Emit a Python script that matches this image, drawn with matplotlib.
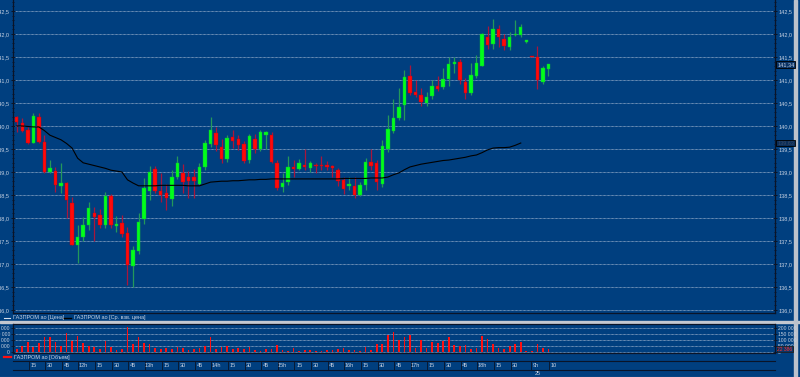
import matplotlib
matplotlib.use('Agg')
import matplotlib.pyplot as plt
from matplotlib.ticker import FuncFormatter, MultipleLocator
from matplotlib.transforms import blended_transform_factory
import numpy as np

# 5-minute candles: 24th 11:00 .. 18:40, then 25th morning
opens = [140.20, 140.07, 139.91, 139.63, 140.20, 139.65, 139.00, 139.02, 138.70, 138.76,
         138.33, 137.41, 137.59, 137.85, 138.11, 138.07, 137.85, 138.48, 137.83, 137.89,
         137.67, 136.96, 137.28, 137.98, 138.59, 139.07, 138.59, 138.54, 138.41, 138.89,
         138.98, 138.89, 138.89, 138.75, 139.10, 139.60, 139.85, 139.54, 139.28, 139.76,
         139.72, 139.61, 139.26, 139.72, 139.50, 139.80, 139.80, 139.20, 138.67, 138.78,
         139.10, 139.06, 139.15, 139.09, 139.15, 139.15, 139.15, 139.11, 139.04, 138.83,
         138.70, 138.70, 138.50, 138.72, 139.22, 139.20, 138.74, 139.50, 139.89, 140.17,
         140.46, 141.09, 140.74, 140.67, 140.50, 140.65, 140.87, 140.85, 141.02, 141.35,
         141.39, 140.96, 140.72, 141.09, 141.30, 141.93, 141.78, 142.10, 141.89, 141.72,
         141.98, 141.98, 141.83, 141.52, 141.50, 140.96, 141.24]
closes = [140.09, 139.89, 139.63, 140.22, 139.65, 139.00, 139.08, 138.72, 138.76, 138.40,
          137.41, 137.59, 137.85, 138.22, 138.02, 137.85, 138.48, 137.85, 137.85, 137.65,
          136.98, 137.30, 137.91, 138.65, 139.00, 138.59, 138.50, 138.43, 138.89, 139.20,
          138.78, 138.80, 138.80, 139.10, 139.63, 139.91, 139.59, 139.28, 139.74, 139.67,
          139.59, 139.24, 139.78, 139.50, 139.87, 139.87, 139.22, 138.65, 138.76, 139.11,
          139.06, 139.20, 139.10, 139.20, 139.13, 139.13, 139.10, 139.09, 138.80, 138.63,
          138.74, 138.50, 138.72, 139.22, 139.13, 138.78, 139.57, 139.93, 140.17, 140.41,
          141.07, 140.72, 140.67, 140.52, 140.63, 140.87, 140.80, 141.02, 141.35, 141.39,
          141.00, 140.72, 141.11, 141.37, 142.00, 141.76, 142.10, 141.93, 141.74, 141.93,
          142.00, 142.15, 141.83, 141.50, 141.00, 141.26, 141.34]
highs = [140.22, 140.17, 139.98, 140.28, 140.28, 139.80, 139.26, 139.11, 139.20, 138.78,
         138.45, 137.85, 138.02, 138.35, 138.24, 138.20, 138.57, 138.52, 138.05, 138.07,
         137.80, 137.40, 138.10, 138.87, 139.13, 139.13, 138.98, 138.74, 139.04, 139.35,
         139.17, 139.02, 139.07, 139.20, 139.70, 140.20, 139.98, 139.72, 139.80, 139.91,
         139.80, 139.67, 139.83, 139.83, 139.91, 139.89, 139.87, 139.26, 138.98, 139.35,
         139.26, 139.28, 139.50, 139.24, 139.20, 139.35, 139.24, 139.15, 139.09, 138.89,
         138.89, 138.89, 138.78, 139.30, 139.50, 139.26, 139.70, 140.24, 140.59, 140.83,
         141.22, 141.33, 141.00, 140.83, 140.74, 141.00, 141.09, 141.26, 141.50, 141.50,
         141.46, 141.04, 141.37, 141.54, 142.02, 142.17, 142.33, 142.20, 142.00, 142.04,
         142.30, 142.22, 141.85, 141.52, 141.74, 141.30, 141.35]
lows = [139.87, 139.87, 139.60, 139.62, 139.63, 138.98, 138.98, 138.57, 138.54, 138.00,
        137.41, 137.02, 137.50, 137.75, 137.50, 137.78, 137.78, 137.78, 137.70, 137.58,
        136.54, 136.50, 137.22, 137.87, 138.40, 138.54, 138.35, 138.17, 138.26, 138.85,
        138.54, 138.43, 138.43, 138.72, 139.05, 139.55, 139.46, 139.20, 139.22, 139.52,
        139.48, 139.20, 139.20, 139.41, 139.46, 139.50, 139.20, 138.61, 138.57, 138.72,
        138.89, 139.04, 139.04, 139.00, 138.98, 139.04, 139.04, 138.89, 138.70, 138.52,
        138.61, 138.43, 138.48, 138.61, 139.04, 138.61, 138.67, 139.43, 139.85, 140.13,
        140.13, 140.67, 140.63, 140.43, 140.43, 140.59, 140.76, 140.80, 140.87, 141.15,
        140.91, 140.59, 140.67, 141.04, 141.30, 141.67, 141.67, 141.72, 141.65, 141.65,
        141.96, 141.93, 141.81, 141.50, 140.80, 140.91, 141.09]
volumes = [22900, 51400, 80000, 42900, 71400, 120000, 120000, 85700, 51400, 157000,
           94300, 134000, 71400, 51400, 42900, 20000, 91400, 37100, 14300, 20000,
           206000, 65700, 123000, 71400, 65700, 34300, 20000, 28600, 20000, 42900,
           34300, 14300, 20000, 34300, 51400, 123000, 22900, 42900, 51400, 20000,
           34300, 22900, 42900, 14300, 8600, 20000, 20000, 57100, 14300, 5700,
           28600, 8600, 14300, 14300, 5700, 8600, 14300, 14300, 22900, 28600,
           14300, 14300, 5700, 37100, 14300, 62900, 65700, 143000, 163000, 100000,
           123000, 143000, 28600, 100000, 28600, 85700, 71400, 91400, 123000, 57100,
           51400, 57100, 20000, 34300, 129000, 109000, 62900, 28600, 22900, 51400,
           65700, 85700, 5700, 3000, 65700, 28600, 22386]
# weighted average price, 24th only
vwap = [140.00, 140.00, 139.99, 139.98, 139.98, 139.90, 139.80, 139.75, 139.70, 139.62,
        139.52, 139.30, 139.20, 139.17, 139.14, 139.11, 139.08, 139.04, 139.02, 139.00,
        138.83, 138.76, 138.70, 138.70, 138.70, 138.70, 138.71, 138.71, 138.71, 138.71,
        138.71, 138.70, 138.70, 138.70, 138.74, 138.78, 138.79, 138.80, 138.80, 138.81,
        138.81, 138.82, 138.83, 138.83, 138.84, 138.84, 138.85, 138.85, 138.85, 138.85,
        138.85, 138.85, 138.85, 138.85, 138.85, 138.85, 138.85, 138.85, 138.85, 138.86,
        138.86, 138.86, 138.86, 138.86, 138.87, 138.87, 138.87, 138.89, 138.94, 138.98,
        139.05, 139.11, 139.14, 139.17, 139.19, 139.21, 139.23, 139.25, 139.26, 139.28,
        139.30, 139.32, 139.35, 139.37, 139.42, 139.48, 139.52, 139.53, 139.53, 139.54,
        139.58, 139.63]

time_labels = ['15', '30', '45', '12h', '15', '30', '45', '13h', '15', '30', '45',
               '14h', '15', '30', '45', '15h', '15', '30', '45', '16h', '15', '30', '45',
               '17h', '15', '30', '45', '18h', '15', '30']
next_day_labels = ['9h', '10']
next_day_date = '25'
price_ticks = [136.0, 136.5, 137.0, 137.5, 138.0, 138.5, 139.0, 139.5,
               140.0, 140.5, 141.0, 141.5, 142.0, 142.5]
volume_ticks = [0, 50000, 100000, 150000, 200000]
volume_tick_labels = ['0', '50 000', '100 000', '150 000', '200 000']

plt.rcParams['font.family'] = ['Liberation Sans', 'DejaVu Sans']

W, H = 800, 377
BG = '#003f7f'
GRID = '#b4c4da'
TXT = '#c8d2e2'
DARK = '#0a1428'
XLIM = (-0.67, 136.9)
FS = 4.0


def px_rect(left, top, right, bottom):
    return [left / W, 1 - bottom / H, (right - left) / W, (bottom - top) / H]


o = np.array(opens)
c = np.array(closes)
hi = np.array(highs)
lo = np.array(lows)
idx = np.arange(len(o))
up = c >= o

fig = plt.figure(figsize=(8, 3.77), dpi=100, facecolor=BG)

# overlay in pixel coordinates for the furniture
ov = fig.add_axes([0, 0, 1, 1], zorder=0)
ov.set_xlim(0, W)
ov.set_ylim(H, 0)
ov.axis('off')
ov.add_patch(plt.Rectangle((0, 320.8), W, 2.6, color='#c4c8d0'))
ov.add_patch(plt.Rectangle((794, 0), 3, H, color='#bcc2cc'))
ov.plot([0, 797], [376.5, 376.5], color='#8da0b8', lw=0.8)
ov.plot([4, 10], [318, 318], color='#d8e0ec', lw=0.8)
ov.text(13, 318, 'ГАЗПРОМ ао [Цена]', color=TXT, fontsize=FS, va='center')
ov.plot([63, 71], [318, 318], color='black', lw=1.0)
ov.text(74, 318, 'ГАЗПРОМ ао [Ср. взв. цена]', color=TXT, fontsize=FS, va='center')
ov.plot([4, 11], [357, 357], color='#ff1010', lw=1.6)
ov.text(14, 357, 'ГАЗПРОМ ао [Объем]', color=TXT, fontsize=FS, va='center')

# price panel
ax = fig.add_axes(px_rect(13, 0, 775, 313), zorder=2)
ax.set_facecolor(BG)
ax.set_xlim(*XLIM)
ax.set_ylim(135.935, 142.739)
ax.set_yticks(price_ticks)
ax.yaxis.set_minor_locator(MultipleLocator(0.1))
ax.yaxis.set_major_formatter(FuncFormatter(lambda v, p: f'{v:.1f}'.replace('.', ',')))
ax.grid(axis='y', color=GRID, linestyle=(0, (0.8, 0.8)), lw=0.6)
ax.set_axisbelow(True)
ax.tick_params(axis='y', which='both', left=True, right=True, labelleft=True,
               labelright=True, direction='inout', color=DARK, labelsize=FS,
               labelcolor=TXT, pad=1.2)
ax.tick_params(axis='y', which='major', length=3, width=0.7)
ax.tick_params(axis='y', which='minor', length=1.6, width=0.6)
ax.tick_params(axis='x', bottom=False, labelbottom=False)
for s in ['left', 'right', 'bottom']:
    ax.spines[s].set_color(DARK)
    ax.spines[s].set_linewidth(0.9)
ax.spines['top'].set_visible(False)

ax.vlines(idx[up], lo[up], hi[up], color='#23985a', lw=0.9, zorder=3)
ax.vlines(idx[~up], lo[~up], hi[~up], color='#a8163c', lw=0.9, zorder=3)
body_lo = np.minimum(o, c)
body_h = np.maximum(np.abs(c - o), 0.03)
ax.bar(idx[up], body_h[up], bottom=body_lo[up], width=0.62, color='#00ff1a',
       edgecolor='#10b040', lw=0.3, zorder=4)
ax.bar(idx[~up], body_h[~up], bottom=body_lo[~up], width=0.62, color='#ff0a0a',
       edgecolor='#c00010', lw=0.3, zorder=4)
ax.plot(np.arange(len(vwap)), vwap, color='black', lw=0.8, zorder=5)

tr = blended_transform_factory(ax.transAxes, ax.transData)
ax.text(1.0028, closes[-1], f'{closes[-1]:.2f}'.replace('.', ','), transform=tr,
        color=TXT, fontsize=FS, va='center', ha='left',
        bbox=dict(boxstyle='square,pad=0.15', fc='#0b3466', ec='black', lw=0.6))
ax.text(1.0028, vwap[-1], f'{vwap[-1]:.2f}'.replace('.', ','), transform=tr,
        color='#3a4a66', fontsize=FS, va='center', ha='left',
        bbox=dict(boxstyle='square,pad=0.15', fc='#0a2d58', ec='black', lw=0.6))

# volume panel
av = fig.add_axes(px_rect(13, 324, 775, 353), zorder=2)
av.set_facecolor(BG)
av.set_xlim(*XLIM)
av.set_ylim(-11300, 233800)
av.set_yticks(volume_ticks)
av.set_yticklabels(volume_tick_labels)
av.grid(axis='y', color=GRID, linestyle=(0, (0.8, 0.8)), lw=0.6)
av.set_axisbelow(True)
av.tick_params(axis='y', left=True, right=True, labelleft=True, labelright=True,
               direction='inout', length=2.5, width=0.6, color=DARK,
               labelsize=3.6, labelcolor=TXT, pad=1.0)
av.tick_params(axis='x', bottom=False, labelbottom=False)
for s in ['left', 'right', 'bottom', 'top']:
    av.spines[s].set_color(DARK)
    av.spines[s].set_linewidth(0.9)
av.bar(idx, volumes, width=0.3, color='#ff1010', zorder=3)
trv = blended_transform_factory(av.transAxes, av.transData)
av.text(1.0028, volumes[-1], f'{volumes[-1]:,}'.replace(',', ' '), transform=trv,
        color='#ff3030', fontsize=3.6, va='center', ha='left',
        bbox=dict(boxstyle='square,pad=0.1', fc='#0b3466', ec='#202020', lw=0.6))

# time axis
at = fig.add_axes(px_rect(13, 361, 775, 369.5), zorder=2)
at.set_facecolor('none')
at.set_xlim(*XLIM)
at.set_ylim(0, 1)
at.set_xticks([])
at.set_yticks([])
for s in ['left', 'right']:
    at.spines[s].set_visible(False)
for s in ['top', 'bottom']:
    at.spines[s].set_color(DARK)
    at.spines[s].set_linewidth(0.8)
positions = [3 * (k + 1) for k in range(len(time_labels))]
next_positions = [93.7, 96.9]
for pos, lab in zip(positions + next_positions, time_labels + next_day_labels):
    at.text(pos, 0.45, lab, color=TXT, fontsize=FS, ha='center', va='center')
    at.plot([pos - 0.85, pos - 0.85], [0, 1], color=DARK, lw=0.6)
at.text(next_positions[0] + 0.3, -0.45, next_day_date, color=TXT, fontsize=FS,
        ha='center', va='center', clip_on=False)

fig.savefig('out.png', dpi=100, facecolor=BG)
